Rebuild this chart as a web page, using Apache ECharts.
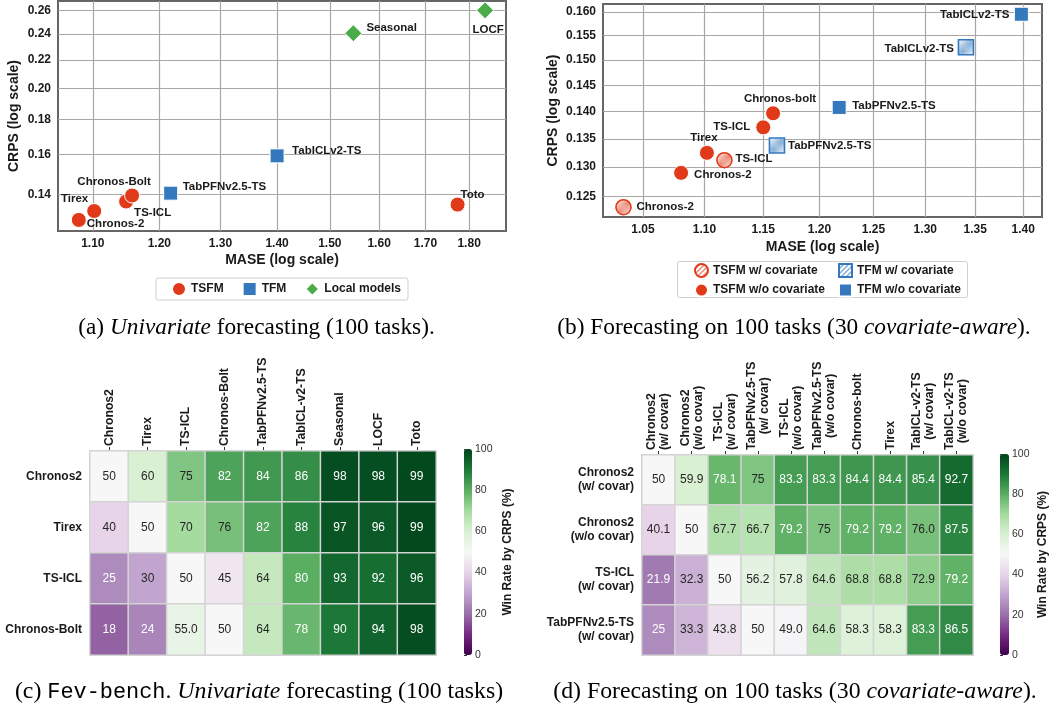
<!DOCTYPE html>
<html>
<head>
<meta charset="utf-8">
<script src="https://cdn.jsdelivr.net/npm/echarts@6/dist/echarts.min.js"></script>
<style>
  html, body { margin: 0; padding: 0; background: #fff; }
  #chart { width: 1052px; height: 708px; }
</style>
</head>
<body>
<div id="chart"></div>
<script>
// (a) univariate: MASE / CRPS per model
const univModels = ['Chronos-2', 'Tirex', 'TS-ICL', 'Chronos-Bolt', 'Toto', 'TabPFNv2.5-TS', 'TabICLv2-TS', 'Seasonal', 'LOCF'];
const univGroup = ['TSFM', 'TSFM', 'TSFM', 'TSFM', 'TSFM', 'TFM', 'TFM', 'Local models', 'Local models'];
const univMase = [1.080, 1.102, 1.149, 1.158, 1.773, 1.218, 1.400, 1.547, 1.838];
const univCrps = [0.1284, 0.1323, 0.1366, 0.1394, 0.1352, 0.1405, 0.1593, 0.2407, 0.2600];
const univXTicks = [1.1, 1.2, 1.3, 1.4, 1.5, 1.6, 1.7, 1.8];
const univYTicks = [0.14, 0.16, 0.18, 0.20, 0.22, 0.24, 0.26];

// (b) covariate-aware
const covModels = ['Chronos-2', 'TS-ICL', 'Chronos-2', 'Tirex', 'TS-ICL', 'Chronos-bolt', 'TabPFNv2.5-TS', 'TabICLv2-TS', 'TabPFNv2.5-TS', 'TabICLv2-TS'];
const covGroup = ['TSFM w/ covariate', 'TSFM w/ covariate', 'TSFM w/o covariate', 'TSFM w/o covariate', 'TSFM w/o covariate', 'TSFM w/o covariate',
  'TFM w/ covariate', 'TFM w/ covariate', 'TFM w/o covariate', 'TFM w/o covariate'];
const covMase = [1.0346, 1.1167, 1.0807, 1.102, 1.150, 1.1586, 1.162, 1.3406, 1.218, 1.398];
const covCrps = [0.1232, 0.1312, 0.1290, 0.1325, 0.1371, 0.1397, 0.1338, 0.1526, 0.1408, 0.1595];
const covXTicks = [1.05, 1.10, 1.15, 1.20, 1.25, 1.30, 1.35, 1.40];
const covYTicks = [0.125, 0.130, 0.135, 0.140, 0.145, 0.150, 0.155, 0.160];

// (c) win rate heatmap, univariate
const winCRows = ['Chronos2', 'Tirex', 'TS-ICL', 'Chronos-Bolt'];
const winCCols = ['Chronos2', 'Tirex', 'TS-ICL', 'Chronos-Bolt', 'TabPFNv2.5-TS', 'TabICL-v2-TS', 'Seasonal', 'LOCF', 'Toto'];
const winC = [
  ['50', '60', '75', '82', '84', '86', '98', '98', '99'],
  ['40', '50', '70', '76', '82', '88', '97', '96', '99'],
  ['25', '30', '50', '45', '64', '80', '93', '92', '96'],
  ['18', '24', '55.0', '50', '64', '78', '90', '94', '98']
];

// (d) win rate heatmap, covariate-aware
const winDRows = ['Chronos2\n(w/ covar)', 'Chronos2\n(w/o covar)', 'TS-ICL\n(w/ covar)', 'TabPFNv2.5-TS\n(w/ covar)'];
const winDCols = ['Chronos2\n(w/ covar)', 'Chronos2\n(w/o covar)', 'TS-ICL\n(w/ covar)', 'TabPFNv2.5-TS\n(w/ covar)', 'TS-ICL\n(w/o covar)',
  'TabPFNv2.5-TS\n(w/o covar)', 'Chronos-bolt', 'Tirex', 'TabICL-v2-TS\n(w/ covar)', 'TabICL-v2-TS\n(w/o covar)'];
const winD = [
  ['50', '59.9', '78.1', '75', '83.3', '83.3', '84.4', '84.4', '85.4', '92.7'],
  ['40.1', '50', '67.7', '66.7', '79.2', '75', '79.2', '79.2', '76.0', '87.5'],
  ['21.9', '32.3', '50', '56.2', '57.8', '64.6', '68.8', '68.8', '72.9', '79.2'],
  ['25', '33.3', '43.8', '50', '49.0', '64.6', '58.3', '58.3', '83.3', '86.5']
];

const SANS = '"Liberation Sans", Arial, sans-serif';
const SERIF = '"Liberation Serif", "Times New Roman", serif';
const MONO = '"Liberation Mono", "DejaVu Sans Mono", monospace';
const INK = '#1a1a1a';
const RED = '#e03a1a', BLUE = '#3478be', GREEN = '#4aab48';
const PRGN = ['#40004b', '#762a83', '#9970ab', '#c2a5cf', '#e7d4e8', '#f7f7f7', '#d9f0d3', '#a6dba0', '#5aae61', '#1b7837', '#00441b'];
const lg = Math.log10;

// label placement: [align, dx, dy] from marker centre
const place = {
  'TSFM|Chronos-2': ['left', 8, 4],
  'TSFM|Tirex': ['right', -6, -12],
  'TSFM|TS-ICL': ['left', 8, 11],
  'TSFM|Chronos-Bolt': ['center', -18, -14],
  'TSFM|Toto': ['left', 3, -10],
  'TFM|TabPFNv2.5-TS': ['left', 12, -6],
  'TFM|TabICLv2-TS': ['left', 15, -5],
  'Local models|Seasonal': ['left', 13, -5],
  'Local models|LOCF': ['center', 3, 19],
  'TFM w/o covariate|TabICLv2-TS': ['right', -12, 1],
  'TFM w/ covariate|TabICLv2-TS': ['right', -12, 2],
  'TSFM w/o covariate|Chronos-bolt': ['center', 7, -14],
  'TFM w/o covariate|TabPFNv2.5-TS': ['left', 13, -2],
  'TSFM w/o covariate|TS-ICL': ['right', -13, -1],
  'TSFM w/o covariate|Tirex': ['center', -3, -15],
  'TFM w/ covariate|TabPFNv2.5-TS': ['left', 11, 0],
  'TSFM w/ covariate|TS-ICL': ['left', 11, -1],
  'TSFM w/o covariate|Chronos-2': ['left', 13, 2],
  'TSFM w/ covariate|Chronos-2': ['left', 13, 0]
};

// diagonal hatch tile used as a fill pattern
function hatch(line) {
  const s = 5;
  const c = document.createElement('canvas');
  c.width = s; c.height = s;
  const ctx = c.getContext('2d');
  ctx.fillStyle = '#fff';
  ctx.fillRect(0, 0, s, s);
  ctx.strokeStyle = line;
  ctx.lineWidth = 1.5;
  ctx.beginPath();
  ctx.moveTo(-1, s + 1); ctx.lineTo(s + 1, -1);
  ctx.moveTo(-1, 1); ctx.lineTo(1, -1);
  ctx.moveTo(s - 1, s + 1); ctx.lineTo(s + 1, s - 1);
  ctx.stroke();
  return { image: c, repeat: 'repeat' };
}

function logAxis(gridIndex, lo, hi, ticks, digits, name, nameGap) {
  return {
    gridIndex: gridIndex, type: 'value', min: lg(lo), max: lg(hi),
    name: name, nameLocation: 'middle', nameGap: nameGap, nameMoveOverlap: false,
    nameTextStyle: { fontFamily: SANS, fontWeight: 'bold', fontSize: 14, color: INK },
    axisLine: { show: false },
    axisTick: { show: false, customValues: ticks.map(lg) },
    axisLabel: {
      customValues: ticks.map(lg), formatter: v => Math.pow(10, v).toFixed(digits),
      fontFamily: SANS, fontWeight: 'bold', fontSize: 12, color: INK, margin: 7
    },
    splitLine: { show: true, lineStyle: { color: '#aba5a5', width: 1.2 } }
  };
}

function scatter(name, models, groups, xs, ys, axis, symbol, size, itemStyle) {
  const data = [];
  models.forEach((m, i) => {
    if (groups[i] !== name) return;
    const p = place[name + '|' + m];
    data.push({ name: m, value: [lg(xs[i]), lg(ys[i])], label: { align: p[0], offset: [p[1], p[2]] } });
  });
  return {
    type: 'scatter', name: name, xAxisIndex: axis, yAxisIndex: axis,
    symbol: symbol, symbolSize: size, itemStyle: Object.assign({ opacity: 1 }, itemStyle), data: data,
    label: {
      show: true, position: 'inside', formatter: '{b}', verticalAlign: 'middle',
      fontFamily: SANS, fontWeight: 'bold', fontSize: 11.5, color: INK
    },
    emphasis: { disabled: true }
  };
}

function heatData(strs) {
  const out = [];
  strs.forEach((row, r) => row.forEach((s, c) => {
    const v = parseFloat(s);
    out.push({ value: [c, r, v], label: { color: (v < 27 || v > 77) ? '#ffffff' : '#262626' } });
  }));
  return out;
}

function heatmap(axis, strs) {
  return {
    type: 'heatmap', xAxisIndex: axis, yAxisIndex: axis, data: heatData(strs),
    itemStyle: { borderColor: '#d4d4d4', borderWidth: 1.5 },
    label: { show: true, formatter: p => strs[p.value[1]][p.value[0]], fontFamily: SANS, fontSize: 12 },
    emphasis: { disabled: true }
  };
}

function catTop(gridIndex, cols, rich) {
  return {
    gridIndex: gridIndex, type: 'category', data: cols, position: 'top',
    axisLine: { show: false },
    axisTick: { show: true, alignWithLabel: true, length: 4, lineStyle: { color: '#333', width: 1 } },
    axisLabel: rich ? {
      interval: 0, rotate: -90, margin: 5,
      formatter: v => v.split('\n').map(s => '{c|' + s + '}').join('\n'),
      rich: { c: { align: 'center', fontFamily: SANS, fontWeight: 'bold', fontSize: 12.2, color: INK, lineHeight: 13 } }
    } : { interval: 0, rotate: -90, margin: 5, fontFamily: SANS, fontWeight: 'bold', fontSize: 12.2, color: INK },
    splitLine: { show: false }
  };
}

function catLeft(gridIndex, rows) {
  return {
    gridIndex: gridIndex, type: 'category', data: rows, inverse: true,
    axisLine: { show: false }, axisTick: { show: false },
    axisLabel: { interval: 0, margin: 8, fontFamily: SANS, fontWeight: 'bold', fontSize: 12, color: INK, lineHeight: 14 },
    splitLine: { show: false }
  };
}

function cbarAxis(gridIndex, gap) {
  return {
    gridIndex: gridIndex, type: 'value', min: 0, max: 100, interval: 20, position: 'right',
    axisLine: { show: false },
    axisTick: { show: true, length: 3, lineStyle: { color: '#333', width: 1 } },
    axisLabel: { fontFamily: SANS, fontSize: 10.5, color: '#333', margin: 3 },
    splitLine: { show: false },
    name: 'Win Rate by CRPS (%)', nameLocation: 'middle', nameRotate: 90, nameGap: gap, nameMoveOverlap: false,
    nameTextStyle: { fontFamily: SANS, fontWeight: 'bold', fontSize: 12, color: INK }
  };
}

const gridBox = { show: true, borderColor: '#666', borderWidth: 2, backgroundColor: '#fff', outerBoundsMode: 'none' };
const plain = { outerBoundsMode: 'none' };

const legendText = { fontFamily: SANS, fontWeight: 'bold', fontSize: 12, color: INK };

function caption(x, y, text, size) {
  return {
    type: 'text', x: x, y: y,
    style: {
      text: text, align: 'center', verticalAlign: 'middle',
      rich: {
        n: { fontFamily: SERIF, fontSize: size, fill: '#000' },
        i: { fontFamily: SERIF, fontStyle: 'italic', fontSize: size, fill: '#000' },
        m: { fontFamily: MONO, fontSize: size * 0.92, fill: '#000' }
      }
    }
  };
}

const chart = echarts.init(document.getElementById('chart'), null, { renderer: 'canvas' });

chart.setOption({
  animation: false,
  backgroundColor: '#fff',
  grid: [
    Object.assign({ left: 58, top: 1, width: 448, height: 230 }, gridBox),
    Object.assign({ left: 603, top: 4, width: 439, height: 213 }, gridBox),
    Object.assign({ left: 90, top: 451, width: 346, height: 204 }, plain),
    Object.assign({ left: 642, top: 455, width: 331, height: 200 }, plain),
    Object.assign({ left: 464, top: 449, width: 8, height: 206 }, plain),
    Object.assign({ left: 1000, top: 454, width: 9, height: 201 }, plain)
  ],
  xAxis: [
    logAxis(0, 1.051, 1.889, univXTicks, 2, 'MASE (log scale)', 22),
    logAxis(1, 1.0187, 1.420, covXTicks, 2, 'MASE (log scale)', 23),
    catTop(2, winCCols, false),
    catTop(3, winDCols, true),
    { gridIndex: 4, type: 'value', show: false },
    { gridIndex: 5, type: 'value', show: false }
  ],
  yAxis: [
    logAxis(0, 0.1237, 0.2683, univYTicks, 2, 'CRPS (log scale)', 37),
    logAxis(1, 0.1216, 0.1617, covYTicks, 3, 'CRPS (log scale)', 43),
    catLeft(2, winCRows),
    catLeft(3, winDRows),
    cbarAxis(4, 30),
    cbarAxis(5, 28)
  ],
  visualMap: [
    { type: 'continuous', seriesIndex: 7, min: 0, max: 100, calculable: false, hoverLink: false,
      inRange: { color: PRGN }, left: 464, top: 449, itemWidth: 8, itemHeight: 206, padding: 0 },
    { type: 'continuous', seriesIndex: 8, min: 0, max: 100, calculable: false, hoverLink: false,
      inRange: { color: PRGN }, left: 1000, top: 454, itemWidth: 9, itemHeight: 201, padding: 0 }
  ],
  legend: [
    { data: ['TSFM', 'TFM', 'Local models'], left: 156, top: 278, orient: 'horizontal',
      padding: [3, 7, 3, 15], itemGap: 18, itemWidth: 14, itemHeight: 14,
      borderColor: '#cfcfcf', borderWidth: 1, borderRadius: 2, textStyle: legendText, selectedMode: false },
    { data: ['TSFM w/ covariate', 'TSFM w/o covariate'], left: 694, top: 263, orient: 'vertical',
      padding: 0, itemGap: 4.6, itemWidth: 13, itemHeight: 13, textStyle: legendText, selectedMode: false },
    { data: ['TFM w/ covariate', 'TFM w/o covariate'], left: 838, top: 263, orient: 'vertical',
      padding: 0, itemGap: 4.6, itemWidth: 13, itemHeight: 13, textStyle: legendText, selectedMode: false }
  ],
  graphic: [
    { type: 'rect', z: 0, shape: { x: 677.5, y: 261.5, width: 290, height: 36, r: 2 },
      style: { fill: '#fff', stroke: '#cfcfcf', lineWidth: 1 } },
    caption(256.5, 328, '{n|(a) }{i|Univariate}{n| forecasting (100 tasks).}', 23.3),
    caption(794, 328, '{n|(b) Forecasting on 100 tasks (30 }{i|covariate-aware}{n|).}', 23.3),
    caption(259, 692, '{n|(c) }{m|Fev-bench}{n|. }{i|Univariate}{n| forecasting (100 tasks)}', 23.8),
    caption(795, 692, '{n|(d) Forecasting on 100 tasks (30 }{i|covariate-aware}{n|).}', 23.8)
  ],
  series: [
    scatter('TSFM', univModels, univGroup, univMase, univCrps, 0, 'circle', 15,
      { color: RED, borderColor: '#fff', borderWidth: 1 }),
    scatter('TFM', univModels, univGroup, univMase, univCrps, 0, 'rect', 14,
      { color: BLUE, borderColor: '#fff', borderWidth: 1 }),
    scatter('Local models', univModels, univGroup, univMase, univCrps, 0, 'diamond', 17,
      { color: GREEN, borderColor: '#fff', borderWidth: 1 }),
    scatter('TSFM w/ covariate', covModels, covGroup, covMase, covCrps, 1, 'circle', 15,
      { color: hatch('rgba(224,58,26,0.6)'), borderColor: RED, borderWidth: 1.6 }),
    scatter('TSFM w/o covariate', covModels, covGroup, covMase, covCrps, 1, 'circle', 15,
      { color: RED, borderColor: '#fff', borderWidth: 1 }),
    scatter('TFM w/ covariate', covModels, covGroup, covMase, covCrps, 1, 'rect', 15,
      { color: hatch('rgba(52,120,190,0.6)'), borderColor: BLUE, borderWidth: 1.6 }),
    scatter('TFM w/o covariate', covModels, covGroup, covMase, covCrps, 1, 'rect', 14,
      { color: BLUE, borderColor: '#fff', borderWidth: 1 }),
    heatmap(2, winC),
    heatmap(3, winD)
  ]
});
</script>
</body>
</html>
